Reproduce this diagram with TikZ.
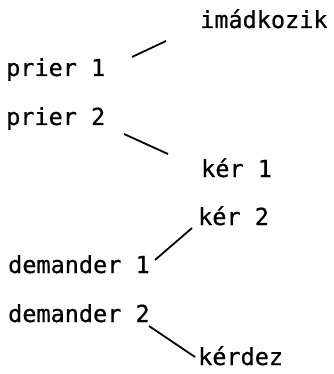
\documentclass[tikz,border=0pt]{standalone}
\usepackage{fontspec}
\newfontfamily\wordfont[FakeBold=0.6]{DejaVu Sans Mono}
\begin{document}
\begin{tikzpicture}[x=1pt,y=-1pt,
  word/.style={anchor=base west,inner sep=0pt,font=\wordfont\fontsize{23.5}{26}\selectfont},
  link/.style={line width=1.8pt}]
\useasboundingbox (0,0) rectangle (333,374);
\node[word] (imad) at (200,28) {imádkozik};
\node[word] (p1) at (6,76) {prier 1};
\node[word] (p2) at (6,125) {prier 2};
\node[word] (k1) at (201,177) {kér 1};
\node[word] (k2) at (198,225) {kér 2};
\node[word] (d1) at (8,273) {demander 1};
\node[word] (d2) at (8,322) {demander 2};
\node[word] (kd) at (198,365) {kérdez};
\coordinate (a1) at (132,57); \coordinate (b1) at (166,41);
\coordinate (a2) at (124,134); \coordinate (b2) at (168,154);
\coordinate (a3) at (155,260); \coordinate (b3) at (192,228);
\coordinate (a4) at (149,326); \coordinate (b4) at (195,357);
\draw[link] (a1) -- (b1);
\draw[link] (a2) -- (b2);
\draw[link] (a3) -- (b3);
\draw[link] (a4) -- (b4);
\end{tikzpicture}
\end{document}
